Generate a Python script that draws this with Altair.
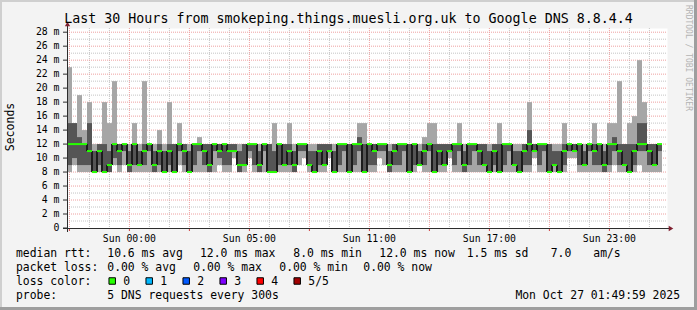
import altair as alt
import pandas as pd

# ---------------- data ----------------
TITLE = "Last 30 Hours from smokeping.things.muesli.org.uk to Google DNS 8.8.4.4"
STEP_H = 0.25  # each column = 15 minutes, window = 30 hours

# sorted pings per column (ms): min, 2nd, median, 4th, max
RTT_MIN = [8, 9, 8, 8, 8, 8, 8, 8, 8, 9,
           8, 9, 8, 8, 8, 8, 8, 8, 8, 8,
           8, 8, 9, 8, 8, 8, 8, 8, 8, 8,
           9, 8, 8, 10, 8, 8, 10, 8, 8, 8,
           8, 8, 8, 8, 8, 8, 9, 10, 8, 8,
           8, 8, 10, 8, 8, 8, 8, 8, 8, 8,
           8, 8, 10, 9, 8, 8, 8, 8, 8, 8,
           9, 8, 8, 8, 8, 8, 10, 8, 8, 8,
           8, 8, 8, 8, 8, 8, 8, 8, 8, 8,
           8, 8, 8, 10, 8, 8, 8, 8, 8, 8,
           10, 10, 8, 8, 8, 8, 8, 8, 8, 9,
           8, 8, 8, 8, 9, 8, 8, 8, 8]
RTT_P2 = [9, 10, 9, 9, 9, 8, 9, 8, 8, 10,
          9, 11, 8, 9, 9, 9, 11, 8, 9, 8,
          9, 8, 11, 9, 8, 9, 11, 9, 8, 11,
          10, 9, 9, 11, 8, 9, 11, 9, 8, 11,
          8, 8, 9, 9, 9, 8, 11, 11, 9, 8,
          9, 9, 11, 8, 9, 11, 8, 9, 11, 8,
          9, 9, 11, 11, 8, 9, 9, 11, 8, 9,
          9, 9, 11, 8, 9, 9, 11, 9, 11, 8,
          9, 11, 9, 9, 8, 9, 8, 9, 11, 9,
          8, 9, 9, 11, 9, 11, 8, 9, 8, 9,
          11, 11, 9, 9, 11, 9, 9, 8, 9, 11,
          9, 9, 8, 9, 11, 11, 9, 9, 11]
RTT_MED = [12, 12, 12, 12, 11, 8, 11, 8, 9, 12,
           11, 12, 9, 12, 9, 11, 12, 9, 11, 8,
           11, 8, 12, 11, 8, 12, 12, 11, 9, 12,
           11, 12, 11, 11, 9, 9, 12, 12, 9, 12,
           8, 8, 12, 9, 11, 9, 12, 12, 9, 8,
           11, 9, 11, 8, 12, 12, 8, 12, 12, 8,
           12, 11, 12, 12, 9, 11, 12, 12, 8, 12,
           9, 11, 12, 8, 11, 9, 11, 12, 12, 9,
           12, 12, 11, 9, 8, 11, 8, 12, 12, 9,
           8, 11, 12, 11, 12, 12, 8, 9, 8, 11,
           12, 11, 12, 9, 12, 11, 12, 9, 12, 12,
           11, 9, 8, 11, 12, 12, 11, 9, 12]
RTT_P4 = [15, 15, 13, 12, 15, 11, 12, 12, 11, 12,
          12, 12, 11, 12, 11, 12, 12, 11, 12, 11,
          12, 12, 12, 12, 11, 12, 12, 12, 12, 12,
          12, 12, 12, 12, 11, 12, 12, 12, 11, 12,
          12, 11, 12, 12, 12, 11, 12, 12, 11, 11,
          12, 12, 12, 11, 12, 12, 12, 12, 13, 12,
          12, 12, 12, 12, 11, 12, 12, 12, 12, 12,
          11, 12, 12, 12, 12, 12, 12, 12, 12, 11,
          12, 12, 12, 12, 11, 12, 12, 12, 12, 11,
          11, 12, 14, 12, 12, 12, 12, 11, 11, 12,
          12, 12, 12, 11, 12, 12, 12, 11, 12, 13,
          12, 12, 12, 12, 15, 15, 12, 12, 12]
RTT_MAX = [23, 15, 19, 14, 18, 12, 12, 18, 15, 21,
           12, 12, 12, 15, 12, 21, 12, 12, 14, 12,
           18, 12, 15, 12, 12, 12, 13, 12, 12, 12,
           12, 12, 12, 12, 12, 12, 12, 12, 12, 12,
           12, 15, 12, 12, 15, 12, 12, 12, 12, 12,
           12, 12, 12, 12, 12, 12, 12, 12, 15, 15,
           12, 12, 12, 12, 12, 12, 12, 12, 12, 12,
           12, 13, 15, 15, 12, 12, 12, 12, 15, 12,
           12, 12, 12, 12, 12, 12, 15, 12, 12, 12,
           12, 12, 18, 12, 12, 12, 12, 12, 12, 15,
           12, 12, 12, 12, 12, 15, 12, 12, 15, 15,
           21, 12, 15, 16, 24, 18, 12, 12, 12]

Y_MAJOR = [0, 2, 4, 6, 8, 10, 12, 14, 16, 18, 20, 22, 24, 26, 28]
Y_MINOR = [1, 3, 5, 7, 9, 11, 13, 15, 17, 19, 21, 23, 25, 27]
FIRST_HOUR = 0.12  # first full hour after window start (hours)
X_LABELS = ["Sun 00:00", "Sun 05:00", "Sun 11:00", "Sun 17:00", "Sun 23:00"]
X_LABEL_H = [3.12, 9.12, 15.12, 21.12, 27.12]

RTT_STATS = [("avg", 10.6), ("max", 12.0), ("min", 8.0), ("now", 12.0), ("sd", 1.5)]
AM_S = 7.0
LOSS_STATS = [("avg", 0.0), ("max", 0.0), ("min", 0.0), ("now", 0.0)]
LOSS_LABELS = ["0", "1", "2", "3", "4", "5/5"]
LOSS_COLORS = ["#26ff00", "#00b8ff", "#0059ff", "#7e00ff", "#ff0000", "#a10000"]
PROBE = "5 DNS requests every 300s"
STAMP = "Mon Oct 27 01:49:59 2025"

# ---------------- layout ----------------
W, H = 600, 200
OX, OY = 67, 28
FONT = "DejaVu Sans Mono"
xs = alt.Scale(domain=[0, 30], nice=False, zero=False)
ys = alt.Scale(domain=[0, 28.6], nice=False, zero=False)
ONE = pd.DataFrame({"k": [0]})

n = len(RTT_MED)
df = pd.DataFrame({
    "t0": [i * STEP_H for i in range(n)],
    "t1": [(i + 1) * STEP_H for i in range(n)],
    "mn": RTT_MIN, "p2": RTT_P2, "med": RTT_MED, "p4": RTT_P4, "mx": RTT_MAX,
})
df["prev"] = df["med"].shift(1).fillna(df["med"])

grid_h = [FIRST_HOUR + k for k in range(30)]
vg = pd.DataFrame({"h": grid_h, "major": [k % 3 == 0 for k in range(30)]})
vg_major = vg[vg.major]
vg_minor = vg[~vg.major]

X = lambda f: alt.X(f"{f}:Q", scale=xs, axis=None)
Y = lambda f: alt.Y(f"{f}:Q", scale=ys, axis=None)

layers = []
# grid
layers.append(alt.Chart(pd.DataFrame({"v": Y_MINOR})).mark_rule(color="#c4c4c4", strokeDash=[1, 1], strokeWidth=1)
              .encode(y=Y("v"), x=alt.value(0), x2=alt.value(W)))
layers.append(alt.Chart(vg_minor).mark_rule(color="#c4c4c4", strokeDash=[1, 1], strokeWidth=1)
              .encode(x=X("h"), y=alt.value(0), y2=alt.value(H)))
layers.append(alt.Chart(pd.DataFrame({"v": Y_MAJOR[1:]})).mark_rule(color="#eea0a0", strokeDash=[1, 1], strokeWidth=1)
              .encode(y=Y("v"), x=alt.value(0), x2=alt.value(W)))
layers.append(alt.Chart(vg_major).mark_rule(color="#eea0a0", strokeDash=[1, 1], strokeWidth=1)
              .encode(x=X("h"), y=alt.value(0), y2=alt.value(H)))

# smoke
base = alt.Chart(df)
layers.append(base.mark_rect(color="#a6a6a6", strokeWidth=0).encode(x=X("t0"), x2="t1", y=Y("mn"), y2="mx"))
layers.append(base.mark_rect(color="#555555", strokeWidth=0).encode(x=X("t0"), x2="t1", y=Y("p2"), y2="p4"))
# median line: dark verticals + loss-coloured horizontals
layers.append(base.mark_rule(color="#1c1c1c", strokeWidth=2).encode(x=X("t0"), y=Y("prev"), y2="med"))
layers.append(base.mark_rule(color=LOSS_COLORS[0], strokeWidth=2).encode(x=X("t0"), x2="t1", y=Y("med")))

# axes
AX = "#2c2c2c"
layers.append(alt.Chart(ONE).mark_rule(color=AX, strokeWidth=1)
              .encode(x=alt.value(-4), x2=alt.value(W + 2), y=alt.value(H + 0.5)))
layers.append(alt.Chart(ONE).mark_rule(color=AX, strokeWidth=1)
              .encode(x=alt.value(0.5), y=alt.value(-3), y2=alt.value(H + 4)))
layers.append(alt.Chart(ONE).mark_point(shape="triangle-right", filled=True, size=28, color="#7f1f2f", opacity=1)
              .encode(x=alt.value(W + 4), y=alt.value(H + 0.5)))
layers.append(alt.Chart(ONE).mark_point(shape="triangle-up", filled=True, size=28, color="#7f1f2f", opacity=1)
              .encode(x=alt.value(0.5), y=alt.value(-4)))
# y ticks + labels
yt = pd.DataFrame({"v": Y_MAJOR, "lab": [("0\u00a0\u00a0" if v == 0 else f"{v} m") for v in Y_MAJOR]})
layers.append(alt.Chart(yt).mark_rule(color=AX).encode(y=Y("v"), x=alt.value(-4), x2=alt.value(0)))
layers.append(alt.Chart(yt).mark_text(font=FONT, fontSize=9.8, align="right", baseline="middle", color="#000")
              .encode(y=Y("v"), x=alt.value(-7.5), text="lab:N"))
# x ticks + labels
layers.append(alt.Chart(vg_major).mark_rule(color="#d04040").encode(x=X("h"), y=alt.value(H + 1), y2=alt.value(H + 3)))
xl = pd.DataFrame({"h": X_LABEL_H, "lab": X_LABELS})
layers.append(alt.Chart(xl).mark_text(font=FONT, fontSize=9.8, align="center", baseline="middle", color="#000")
              .encode(x=X("h"), y=alt.value(H + 10.5), text="lab:N"))


def txt(s, ax, ay, size=11.4, align="left", angle=0, color="#000000"):
    kw = dict(text=s, font=FONT, fontSize=size, align=align, baseline="middle", color=color)
    if angle:
        kw["angle"] = angle
    return alt.Chart(ONE).mark_text(**kw).encode(x=alt.value(ax - OX), y=alt.value(ay - OY))


layers.append(txt(TITLE, 348.5, 19, size=13.3, align="center"))
layers.append(txt("Seconds", 11, 127, size=11.5, align="center", angle=270))
layers.append(txt("RRDTOOL / TOBI OETIKER", 688, 5, size=8, angle=90, color="#b4b4b4"))

# legend row 1
r1 = 254.3
layers.append(txt("median rtt:", 16, r1))
r1_x = [107.3, 200, 293.3, 379.3, 466.7]
for (nm, v), px in zip(RTT_STATS, r1_x):
    layers.append(txt(f"{v:.1f} ms {nm}", px, r1))
layers.append(txt(f"{AM_S:.1f}", 550.7, r1))
layers.append(txt("am/s", 593.3, r1))
# row 2
r2 = 268.3
layers.append(txt("packet loss:", 16, r2))
for (nm, v), px in zip(LOSS_STATS, [107.3, 193.3, 279.3, 363.3]):
    layers.append(txt(f"{v:.2f} % {nm}", px, r2))
# row 3
r3 = 282.3
layers.append(txt("loss color:", 16, r3))
for i, (lab, col) in enumerate(zip(LOSS_LABELS, LOSS_COLORS)):
    layers.append(alt.Chart(ONE).mark_square(size=42, color=col, opacity=1, stroke="#000000", strokeWidth=1)
                  .encode(x=alt.value(112.2 + 37 * i - OX), y=alt.value(r3 - 1.3 - OY)))
    layers.append(txt(lab, 123.3 + 37 * i, r3))
# row 4
r4 = 296
layers.append(txt("probe:", 16, r4))
layers.append(txt(PROBE, 107.3, r4))
layers.append(txt(STAMP, 680, r4, align="right"))

# 3-D frame
layers.append(alt.Chart(ONE).mark_rule(color="#cfcfcf", strokeWidth=2)
              .encode(x=alt.value(-OX), x2=alt.value(697 - OX), y=alt.value(1 - OY)))
layers.append(alt.Chart(ONE).mark_rule(color="#cfcfcf", strokeWidth=2)
              .encode(x=alt.value(1 - OX), y=alt.value(-OY), y2=alt.value(310 - OY)))
layers.append(alt.Chart(ONE).mark_rule(color="#9e9e9e", strokeWidth=3)
              .encode(x=alt.value(-OX), x2=alt.value(697 - OX), y=alt.value(308.5 - OY)))
layers.append(alt.Chart(ONE).mark_rule(color="#9e9e9e", strokeWidth=3)
              .encode(x=alt.value(695.5 - OX), y=alt.value(-OY), y2=alt.value(310 - OY)))

chart = alt.layer(*layers).properties(
    width=W, height=H,
    autosize=alt.AutoSizeParams(type="none"),
    padding={"left": OX, "top": OY, "right": 697 - OX - W, "bottom": 310 - OY - H},
    background="#f3f3f3",
).configure_view(fill="white", stroke="transparent")

chart.save("out.html", embed_options={"renderer": "svg", "actions": False})
